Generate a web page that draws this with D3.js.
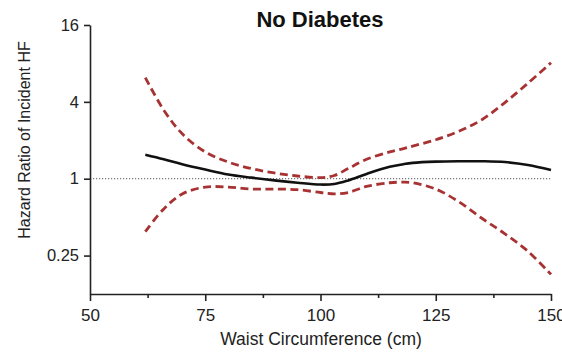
<!DOCTYPE html>
<html>
<head>
<meta charset="utf-8">
<script src="https://cdn.jsdelivr.net/npm/d3@7"></script>
<style>
  html, body { margin: 0; padding: 0; background: #fff; }
  svg { display: block; font-family: "Liberation Sans", Arial, Helvetica, sans-serif; }
</style>
</head>
<body>
<svg id="chart" width="562" height="355"></svg>
<script>
// Waist circumference (cm) and hazard ratio of incident HF, no-diabetes group
const waist   = [62, 66, 70, 75, 80, 85, 90, 95, 100, 103, 106, 110, 115, 118, 120, 125, 130, 135, 140, 145, 150];
const hr      = [1.54, 1.42, 1.30, 1.18, 1.08, 1.02, 0.97, 0.93, 0.90, 0.91, 0.97, 1.09, 1.24, 1.30, 1.33, 1.36, 1.37, 1.37, 1.35, 1.28, 1.17];
const upperCI = [6.2, 3.45, 2.25, 1.62, 1.35, 1.20, 1.11, 1.05, 1.02, 1.06, 1.20, 1.42, 1.62, 1.72, 1.80, 2.02, 2.35, 2.90, 3.95, 5.6, 8.1];
const lowerCI = [0.385, 0.58, 0.76, 0.86, 0.86, 0.83, 0.83, 0.82, 0.78, 0.76, 0.78, 0.87, 0.93, 0.94, 0.93, 0.83, 0.66, 0.49, 0.37, 0.27, 0.178];

const xTicks = [50, 75, 100, 125, 150];
const xMinorTicks = [62.5, 87.5, 112.5, 137.5];
const yTicks = [0.25, 1, 4, 16];
const yTickLabels = ["0.25", "1", "4", "16"];

const title = "No Diabetes";
const xTitle = "Waist Circumference (cm)";
const yTitle = "Hazard Ratio of Incident HF";

const svg = d3.select("#chart");
const plotLeft = 90, plotRight = 551, plotTop = 25, plotBottom = 294;

const x = d3.scaleLinear().domain([50, 150]).range([plotLeft, plotRight]);
const y = d3.scaleLog().base(2).domain([0.125, 16]).range([plotBottom, plotTop]);

// reference line at HR = 1
svg.append("line")
  .attr("x1", plotLeft).attr("x2", plotRight)
  .attr("y1", y(1)).attr("y2", y(1))
  .attr("stroke", "#555").attr("stroke-width", 1)
  .attr("stroke-dasharray", "1.2,1.8");

const line = d3.line().curve(d3.curveCatmullRom.alpha(0.5));

function series(values, color, width, dash) {
  svg.append("path")
    .attr("d", line(waist.map((w, i) => [x(w), y(values[i])])))
    .attr("fill", "none")
    .attr("stroke", color)
    .attr("stroke-width", width)
    .attr("stroke-dasharray", dash);
}

series(upperCI, "#a83232", 2.8, "8,4.5");
series(lowerCI, "#a83232", 2.8, "8,4.5");
series(hr, "#111", 2.6, null);

// axes
const xAxis = svg.append("g")
  .attr("transform", `translate(0,${plotBottom})`)
  .call(d3.axisBottom(x).tickValues(xTicks).tickSize(7).tickPadding(8).tickSizeOuter(0));
const xMinor = svg.append("g")
  .attr("transform", `translate(0,${plotBottom})`)
  .call(d3.axisBottom(x).tickValues(xMinorTicks).tickSize(4).tickFormat(""));
xMinor.select(".domain").remove();

const yAxis = svg.append("g")
  .attr("transform", `translate(${plotLeft},0)`)
  .call(d3.axisLeft(y).tickValues(yTicks).tickFormat((d, i) => yTickLabels[i]).tickSize(6).tickPadding(5).tickSizeOuter(0));

[xAxis, xMinor, yAxis].forEach(g => {
  g.selectAll(".domain").attr("stroke", "#222").attr("stroke-width", 1.6);
  g.selectAll(".tick line").attr("stroke", "#222").attr("stroke-width", 1.6);
  g.selectAll(".tick text").attr("fill", "#222")
    .style("font-family", "'Liberation Sans', Arial, sans-serif");
});
xAxis.selectAll(".tick text").style("font-size", "17px");
yAxis.selectAll(".tick text").style("font-size", "16.5px");

// titles
svg.append("text")
  .attr("x", 320).attr("y", 27)
  .attr("text-anchor", "middle")
  .style("font-size", "22px").style("font-weight", "bold")
  .attr("fill", "#111")
  .text(title);

svg.append("text")
  .attr("x", 321).attr("y", 345)
  .attr("text-anchor", "middle")
  .style("font-size", "17.5px")
  .attr("fill", "#222")
  .text(xTitle);

svg.append("text")
  .attr("transform", "translate(30,140) rotate(-90)")
  .attr("text-anchor", "middle")
  .style("font-size", "16px")
  .attr("fill", "#222")
  .text(yTitle);
</script>
</body>
</html>
